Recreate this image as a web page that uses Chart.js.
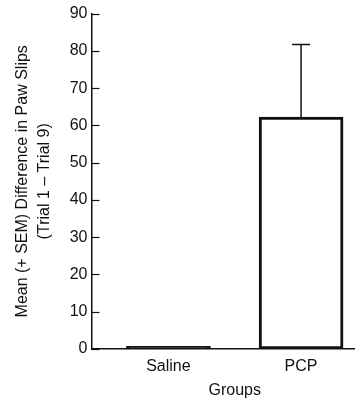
<!DOCTYPE html>
<html>
<head>
<meta charset="utf-8">
<script src="https://cdn.jsdelivr.net/npm/chart.js@4.4.0/dist/chart.umd.min.js"></script>
<style>
  html, body { margin: 0; padding: 0; background: #fff; overflow: hidden; }
  /* plot runs past the right edge of the window, as in the scan */
  #wrap { width: 378px; height: 400px; }
</style>
</head>
<body>
<div id="wrap"><canvas id="chart"></canvas></div>
<script>
// data
const groups = ['Saline', 'PCP'];
const groupPos = [0, 1];
const means = [0.7, 62.2];
const sems = [0, 19.5];
const yTicks = [0, 10, 20, 30, 40, 50, 60, 70, 80, 90];

const FONT = '"Liberation Sans", Arial, sans-serif';

// error bars (upper only) + inward y ticks
const extras = {
  id: 'extras',
  afterDatasetsDraw(chart) {
    const ctx = chart.ctx;
    const xs = chart.scales.x, ys = chart.scales.y;
    ctx.save();
    ctx.strokeStyle = '#111';
    ctx.lineWidth = 1.5;
    for (let i = 0; i < means.length; i++) {
      if (!sems[i]) continue;
      const x = xs.getPixelForValue(groupPos[i]);
      const y0 = ys.getPixelForValue(means[i]);
      const y1 = ys.getPixelForValue(means[i] + sems[i]);
      ctx.beginPath();
      ctx.moveTo(x, y0);
      ctx.lineTo(x, y1);
      ctx.moveTo(x - 9, y1);
      ctx.lineTo(x + 9, y1);
      ctx.stroke();
    }
    // tick marks point into the plot
    const left = chart.chartArea.left;
    ctx.lineWidth = 1.2;
    yTicks.forEach(v => {
      const y = Math.round(ys.getPixelForValue(v)) + 0.5;
      ctx.beginPath();
      ctx.moveTo(left, y);
      ctx.lineTo(left + 8, y);
      ctx.stroke();
    });
    ctx.restore();
  }
};

new Chart(document.getElementById('chart'), {
  type: 'bar',
  data: {
    datasets: [{
      data: groupPos.map((x, i) => ({ x: x, y: means[i] })),
      backgroundColor: ['#111', '#fff'],
      borderColor: '#111',
      borderWidth: 3,
      borderSkipped: false,
      barThickness: 84
    }]
  },
  options: {
    responsive: true,
    maintainAspectRatio: false,
    animation: false,
    layout: { padding: { left: 6, right: 0, top: 13, bottom: 0 } },
    plugins: { legend: { display: false }, tooltip: { enabled: false } },
    scales: {
      x: {
        type: 'linear',
        offset: false,
        min: -0.58,
        max: 1.58,
        afterBuildTicks: s => { s.ticks = groupPos.map(v => ({ value: v })); },
        afterFit: s => { s.height = 51; },
        grid: { display: false, drawTicks: false },
        border: { display: true, color: '#111', width: 1.5 },
        ticks: {
          callback: v => groups[v],
          color: '#111',
          font: { family: FONT, size: 16 },
          padding: 8,
          maxRotation: 0
        },
        title: {
          display: true,
          text: 'Groups',
          color: '#111',
          font: { family: FONT, size: 16 },
          padding: { top: 3, bottom: 0 }
        }
      },
      y: {
        min: 0,
        max: 90,
        afterBuildTicks: s => { s.ticks = yTicks.map(v => ({ value: v })); },
        afterFit: s => { s.width = 85.5; },
        grid: { display: false, drawTicks: false },
        border: { display: true, color: '#111', width: 1.5 },
        ticks: {
          color: '#111',
          font: { family: FONT, size: 16 },
          padding: 4
        },
        title: {
          display: true,
          text: ['Mean (+ SEM) Difference in Paw Slips', '(Trial 1 \u2013 Trial 9)'],
          color: '#111',
          font: { family: FONT, size: 16, lineHeight: 1.4 },
          padding: { top: 5, bottom: 0 }
        }
      }
    }
  },
  plugins: [extras]
});
</script>
</body>
</html>
